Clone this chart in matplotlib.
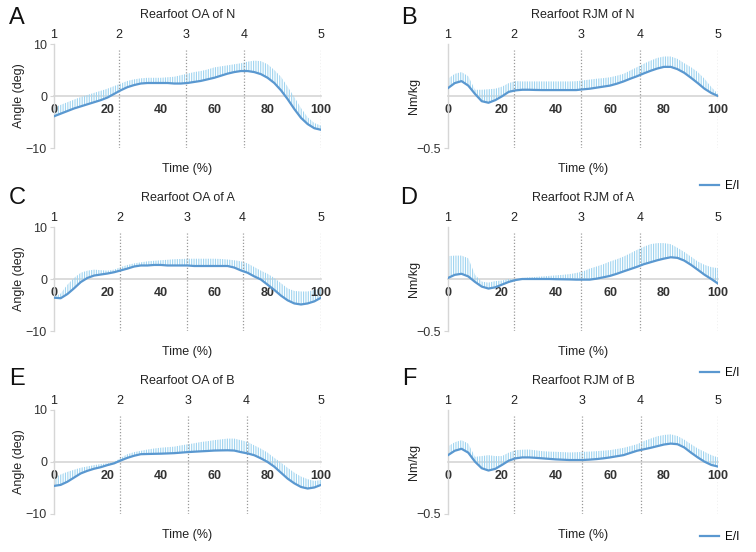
import matplotlib
matplotlib.use("Agg")
import matplotlib.pyplot as plt
import numpy as np

plt.rcParams['font.family'] = ['Liberation Sans Narrow', 'Liberation Sans', 'DejaVu Sans']
plt.rcParams['hatch.linewidth'] = 0.8

# ---------------------------------------------------------------------------
# data, time normalised 0-100 % in 2.5 % steps
# ---------------------------------------------------------------------------
time_pct = [0, 2.5, 5, 7.5, 10, 12.5, 15, 17.5, 20, 22.5, 25, 27.5, 30, 32.5, 35, 37.5, 40,
            42.5, 45, 47.5, 50, 52.5, 55, 57.5, 60, 62.5, 65, 67.5, 70, 72.5, 75, 77.5, 80,
            82.5, 85, 87.5, 90, 92.5, 95, 97.5, 100]

# A: rearfoot OA of N (deg)
oa_n_mean = [-3.9, -3.4, -2.9, -2.4, -2.0, -1.6, -1.2, -0.8, -0.3, 0.4, 1.1, 1.7, 2.1, 2.4, 2.5,
             2.5, 2.5, 2.5, 2.4, 2.4, 2.5, 2.7, 2.9, 3.2, 3.5, 3.9, 4.3, 4.6, 4.8, 4.8, 4.6, 4.2,
             3.5, 2.5, 1.1, -0.6, -2.5, -4.2, -5.4, -6.2, -6.5]
oa_n_upper = [-2.2, -1.7, -1.2, -0.7, -0.2, 0.2, 0.6, 1.0, 1.4, 1.9, 2.4, 2.9, 3.2, 3.4, 3.5,
              3.5, 3.5, 3.6, 3.7, 4.0, 4.3, 4.6, 4.8, 5.1, 5.5, 5.7, 5.9, 6.1, 6.3, 6.6, 6.8,
              6.7, 6.1, 5.0, 3.7, 1.8, -0.2, -2.3, -4.1, -5.2, -5.7]

# B: rearfoot RJM of N (Nm/kg)
rjm_n_mean = [0.076, 0.124, 0.143, 0.10, 0.02, -0.05, -0.065, -0.04, -0.003, 0.04, 0.054, 0.06,
              0.06, 0.058, 0.057, 0.057, 0.057, 0.057, 0.057, 0.057, 0.064, 0.07, 0.08, 0.09,
              0.10, 0.118, 0.14, 0.166, 0.19, 0.217, 0.242, 0.264, 0.28, 0.28, 0.258, 0.223,
              0.175, 0.124, 0.07, 0.029, 0.0]
rjm_n_upper = [0.166, 0.213, 0.23, 0.19, 0.06, 0.06, 0.065, 0.07, 0.09, 0.124, 0.143, 0.14,
               0.14, 0.14, 0.14, 0.14, 0.14, 0.14, 0.14, 0.142, 0.15, 0.158, 0.166, 0.172,
               0.18, 0.195, 0.213, 0.245, 0.277, 0.31, 0.34, 0.366, 0.38, 0.38, 0.357, 0.315,
               0.277, 0.23, 0.166, 0.086, 0.02]

# C: rearfoot OA of A (deg)
oa_a_mean = [-3.6, -3.7, -2.9, -1.8, -0.6, 0.2, 0.66, 0.86, 1.05, 1.3, 1.65, 2.0, 2.4, 2.6, 2.6,
             2.7, 2.7, 2.6, 2.6, 2.6, 2.6, 2.5, 2.5, 2.5, 2.5, 2.5, 2.5, 2.2, 1.65, 1.2, 0.5,
             -0.1, -1.1, -2.1, -3.2, -4.1, -4.7, -4.9, -4.7, -4.3, -3.6]
oa_a_upper = [-3.4, -2.8, -1.1, 0.2, 1.2, 1.6, 1.8, 1.7, 1.6, 1.8, 2.3, 2.7, 3.0, 3.2, 3.4, 3.5,
              3.6, 3.7, 3.8, 3.85, 3.9, 3.9, 3.9, 3.9, 3.9, 3.85, 3.75, 3.6, 3.4, 3.0, 2.3,
              1.6, 1.0, 0.2, -0.8, -1.8, -2.3, -2.4, -2.4, -2.1, -1.8]

# D: rearfoot RJM of A (Nm/kg)
rjm_a_mean = [0.01, 0.04, 0.05, 0.025, -0.028, -0.073, -0.092, -0.08, -0.054, -0.028, -0.01, 0.0,
              0.0, 0.0, 0.0, 0.0, -0.002, -0.003, -0.004, -0.006, -0.006, -0.006, 0.003, 0.016,
              0.03, 0.05, 0.073, 0.095, 0.117, 0.142, 0.161, 0.18, 0.196, 0.209, 0.203, 0.177,
              0.136, 0.089, 0.041, 0.0, -0.044]
rjm_a_upper = [0.22, 0.225, 0.225, 0.2, 0.04, -0.025, -0.035, -0.02, -0.015, 0.0, 0.0, 0.008,
               0.016, 0.02, 0.025, 0.03, 0.035, 0.04, 0.047, 0.058, 0.073, 0.1, 0.12, 0.142,
               0.168, 0.19, 0.215, 0.247, 0.28, 0.31, 0.335, 0.345, 0.345, 0.335, 0.3, 0.26,
               0.215, 0.168, 0.136, 0.114, 0.104]

# E: rearfoot OA of B (deg)
oa_b_mean = [-4.6, -4.4, -3.8, -3.0, -2.2, -1.7, -1.3, -1.0, -0.6, -0.26, 0.3, 0.8, 1.2, 1.5,
             1.54, 1.57, 1.6, 1.65, 1.7, 1.8, 1.9, 1.98, 2.05, 2.12, 2.2, 2.23, 2.25, 2.2, 1.9,
             1.65, 1.3, 0.7, 0.0, -0.9, -2.05, -3.2, -4.1, -4.8, -5.1, -4.9, -4.4]
oa_b_upper = [-3.0, -2.4, -1.9, -1.5, -1.1, -0.85, -0.6, -0.4, -0.26, 0.0, 0.8, 1.5, 1.9, 2.15,
              2.4, 2.6, 2.75, 2.85, 2.95, 3.2, 3.4, 3.6, 3.85, 4.0, 4.2, 4.35, 4.5, 4.5, 4.2,
              3.85, 3.2, 2.55, 1.8, 0.8, -0.1, -1.1, -2.05, -2.8, -3.3, -3.65, -3.45]

# F: rearfoot RJM of B (Nm/kg)
rjm_b_mean = [0.066, 0.108, 0.127, 0.09, 0.003, -0.06, -0.082, -0.066, -0.028, 0.013, 0.035,
              0.044, 0.044, 0.04, 0.035, 0.03, 0.025, 0.022, 0.019, 0.019, 0.019, 0.023, 0.028,
              0.035, 0.044, 0.055, 0.066, 0.087, 0.108, 0.122, 0.136, 0.152, 0.168, 0.177,
              0.171, 0.14, 0.09, 0.044, 0.003, -0.028, -0.044]
rjm_b_upper = [0.15, 0.19, 0.21, 0.177, 0.05, 0.057, 0.066, 0.057, 0.057, 0.09, 0.114, 0.118,
               0.12, 0.112, 0.104, 0.1, 0.098, 0.095, 0.092, 0.094, 0.098, 0.1, 0.104, 0.109,
               0.114, 0.125, 0.136, 0.153, 0.171, 0.2, 0.225, 0.247, 0.26, 0.266, 0.25, 0.215,
               0.171, 0.13, 0.098, 0.066, 0.044]

# gait phase boundaries (1..5) for each panel, % of stance
phase_labels = ['1', '2', '3', '4', '5']
phases_a = [0, 24.4, 49.5, 71.2, 100]
phases_b = [0, 24.3, 49.4, 71.0, 100]
phases_c = [0, 24.6, 49.8, 70.6, 100]
phases_d = [0, 24.4, 49.4, 71.0, 100]
phases_e = [0, 24.6, 50.0, 72.1, 100]
phases_f = [0, 24.5, 49.6, 71.3, 100]

x_ticks = [0, 20, 40, 60, 80, 100]

panels = [
    ('A', 'Rearfoot OA of N', oa_n_mean, oa_n_upper, phases_a, 'angle'),
    ('B', 'Rearfoot RJM of N', rjm_n_mean, rjm_n_upper, phases_b, 'moment'),
    ('C', 'Rearfoot OA of A', oa_a_mean, oa_a_upper, phases_c, 'angle'),
    ('D', 'Rearfoot RJM of A', rjm_a_mean, rjm_a_upper, phases_d, 'moment'),
    ('E', 'Rearfoot OA of B', oa_b_mean, oa_b_upper, phases_e, 'angle'),
    ('F', 'Rearfoot RJM of B', rjm_b_mean, rjm_b_upper, phases_f, 'moment'),
]

# ---------------------------------------------------------------------------
W, H = 756, 552
fig = plt.figure(figsize=(W / 100, H / 100), dpi=100)

line_color = '#5a98d0'
band_color = '#9fd4f0'
grid_gray = '#d6d6d6'

col_lr = [(54, 321), (448, 718)]
row_tb = [(44, 148), (227, 331), (410, 514)]
letter_y = [18, 198, 379]
legend_y = [186, 373, 537]

for k, (letter, title, mean, upper, phases, kind) in enumerate(panels):
    row, col = divmod(k, 2)
    l, r = col_lr[col]
    t, b = row_tb[row]
    ax = fig.add_axes([l / W, 1 - b / H, (r - l) / W, (b - t) / H])

    ax.fill_between(time_pct, mean, upper, facecolor='none', edgecolor=band_color,
                    hatch='|||||||', linewidth=0, zorder=1)
    mean_line, = ax.plot(time_pct, mean, color=line_color, lw=1.6, zorder=3, label='E/I')

    for p in phases[1:]:
        ax.axvline(p, ymin=0, ymax=0.94, color='#9a9a9a', ls=(0, (1, 1.5)), lw=0.9, zorder=2)

    ax.set_xlim(0, 100)
    if kind == 'angle':
        ax.set_ylim(-10, 10)
        ax.set_yticks([-10, 0, 10])
        ax.set_yticklabels(['\u221210', '0', '10'])
        ax.set_ylabel('Angle (deg)', fontsize=9, color='#222222')
        ax.yaxis.set_label_coords(-0.11, 0.5)
    else:
        ax.set_ylim(-0.5, 0.5)
        ax.set_yticks([-0.5])
        ax.set_yticklabels(['\u22120.5'])
        ax.set_ylabel('Nm/kg', fontsize=9, color='#222222')
        ax.yaxis.set_label_coords(-0.105, 0.5)

    for s in ('top', 'right'):
        ax.spines[s].set_visible(False)
    ax.spines['left'].set_color(grid_gray)
    ax.spines['left'].set_linewidth(1.0)
    ax.spines['bottom'].set_position('zero')
    ax.spines['bottom'].set_color(grid_gray)
    ax.spines['bottom'].set_linewidth(1.2)
    ax.spines['bottom'].set_zorder(0.5)

    ax.set_xticks(x_ticks)
    ax.set_xticklabels([str(v) for v in x_ticks], fontweight='bold',
                       family=['Liberation Sans', 'DejaVu Sans'])
    ax.tick_params(axis='x', length=0, pad=6, labelsize=9, labelcolor='#333333')
    ax.tick_params(axis='y', length=3, width=0.8, color=grid_gray, pad=2,
                   labelsize=9, labelcolor='#333333')

    ax.set_xlabel('Time (%)', fontsize=9, color='#222222')
    ax.xaxis.set_label_coords(0.5, -0.145)

    top = ax.secondary_xaxis('top')
    top.set_xticks(phases)
    top.set_xticklabels(phase_labels)
    top.tick_params(length=0, pad=2, labelsize=9, labelcolor='#222222')
    top.spines['top'].set_visible(False)

    ax.annotate(title, xy=(0.5, 1), xycoords='axes fraction', xytext=(0, 21),
                textcoords='offset points', ha='center', va='center', fontsize=9,
                color='#222222')

    fig.text((17 if col == 0 else 409) / W, 1 - letter_y[row] / H, letter,
             fontsize=17, ha='center', va='center', color='#111111')

    if col == 1:
        ax.legend(handles=[mean_line], loc='center', frameon=False, fontsize=8.5,
                  handlelength=1.6, handletextpad=0.5, borderaxespad=0,
                  bbox_to_anchor=(720 / W, 1 - legend_y[row] / H),
                  bbox_transform=fig.transFigure)

fig.savefig('out.png', dpi=100)
